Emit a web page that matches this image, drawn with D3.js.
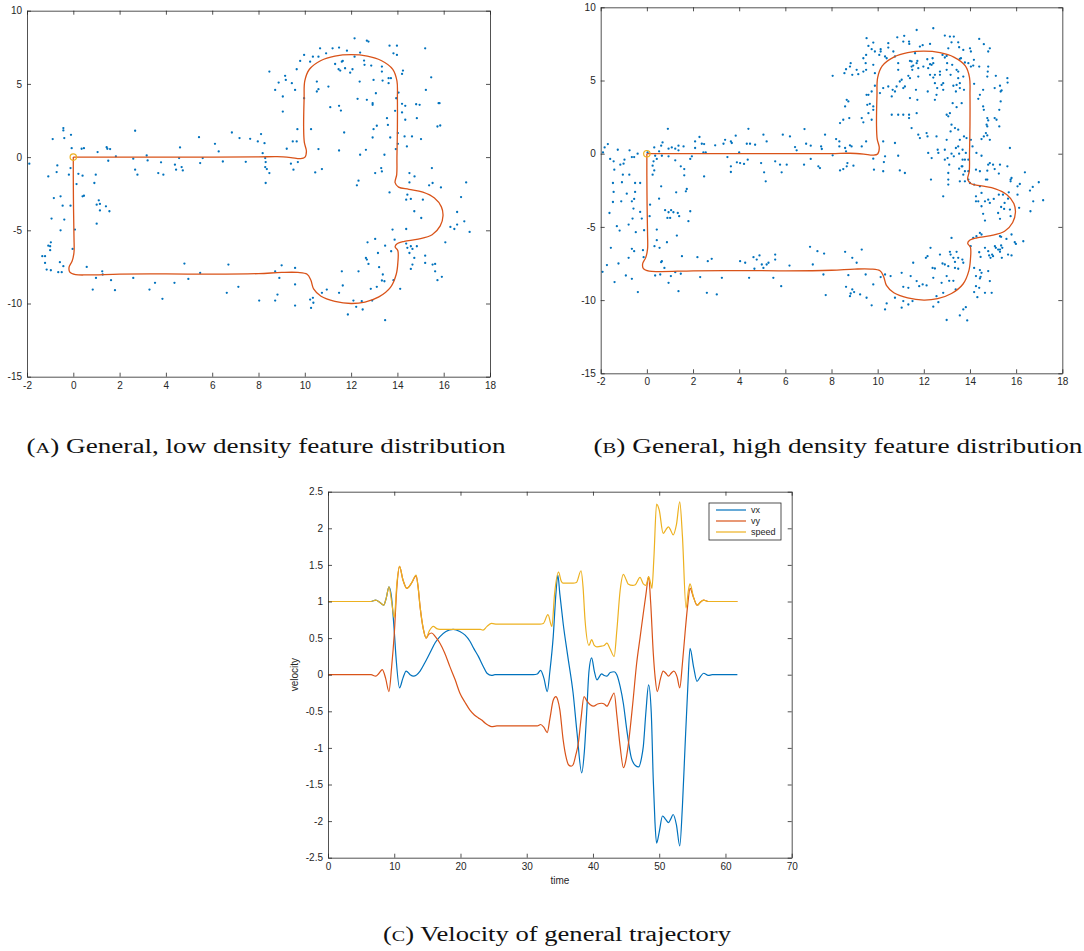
<!DOCTYPE html>
<html><head><meta charset="utf-8">
<script src="https://cdn.jsdelivr.net/npm/d3@7"></script>
<style>body{margin:0;background:#fff}svg{display:block}</style>
</head><body>
<svg id="c" width="1084" height="951"></svg>
<script>
// ---------- DATA ----------
const mapXTicks = [-2,0,2,4,6,8,10,12,14,16,18];
const mapYTicks = [-15,-10,-5,0,5,10];
const velXTicks = [0,10,20,30,40,50,60,70];
const velYTicks = [-2.5,-2,-1.5,-1,-0.5,0,0.5,1,1.5,2,2.5];

const trajectory = [[0,0],[2,0],[5,0],[8,0.01],[8.8,0.03],[9.4,-0.03],[9.8,-0.1],[10.0,-0.02],[10.07,0.4],[9.98,1.0],[9.95,2],[9.97,4],[10.0,5.2],[10.2,6.0],[10.7,6.6],[11.3,6.9],[12.0,7.0],[12.7,6.9],[13.3,6.6],[13.8,6.0],[13.98,5.2],[14.0,4],[14.0,2],[13.98,0],[13.97,-1.2],[13.9,-1.75],[14.05,-2.05],[14.5,-2.2],[15.1,-2.4],[15.6,-2.8],[15.9,-3.4],[15.97,-4.0],[15.85,-4.7],[15.5,-5.3],[14.9,-5.6],[14.3,-5.75],[14.0,-5.9],[13.9,-6.12],[14.02,-6.4],[14.02,-7.2],[13.95,-8.0],[13.7,-8.9],[13.2,-9.55],[12.6,-9.9],[12.0,-10.0],[11.3,-9.85],[10.7,-9.5],[10.38,-9.0],[10.26,-8.4],[10.1,-8.0],[9.7,-7.88],[9,-7.88],[8,-7.96],[6,-8.0],[4,-7.98],[2,-8.0],[0.6,-8.05],[0.1,-8.02],[-0.15,-7.85],[-0.18,-7.5],[-0.05,-7.1],[0.03,-6.5],[0.03,-5.5],[0.01,-3.5],[0,-1.5],[0,0]];

const featuresLow = [[-1.9,-0.45],[-0.43,1.98],[-0.43,1.82],[-0.39,1.3],[-0.89,1.23],[-0.1,1.52],[-0.07,0.61],[0.36,0.57],[0.46,0.61],[-0.69,-0.57],[-0.72,-1.02],[-1.08,-1.32],[-0.19,-1.2],[-0.12,-0.75],[0.22,-1.14],[0.4,-1.27],[0.14,-1.84],[-0.84,-2.8],[-0.55,-2.68],[-0.46,-3.32],[-0.12,-3.32],[0.4,-2.68],[0.46,-2.64],[-0.94,-4.2],[-0.39,-4.27],[-0.55,-5.0],[0.07,-4.95],[-0.03,-6.27],[-0.97,-5.82],[-1.0,-6.09],[-1.08,-6.05],[-1.0,-6.36],[-1.34,-6.77],[-1.22,-6.77],[-1.22,-7.23],[-1.15,-7.68],[-0.97,-7.73],[-0.65,-7.86],[-0.5,-7.86],[-0.58,-7.18],[-0.43,-7.45],[0.58,-7.5],[0.97,-1.2],[0.91,-1.77],[1.05,0.34],[1.44,0.68],[1.47,0.57],[1.59,0.55],[1.51,-0.25],[1.84,0.05],[1.01,-3.25],[1.1,-2.95],[1.15,-3.2],[1.15,-3.64],[1.41,-3.36],[1.56,-3.7],[1.01,-4.55],[0.98,-8.25],[1.25,-7.8],[1.27,-8.02],[0.84,-9.05],[1.63,-8.41],[1.8,-9.09],[2.67,1.8],[2.59,-0.11],[2.67,-0.86],[2.77,-1.2],[2.59,-8.25],[3.17,0.11],[3.21,-0.23],[3.79,-0.36],[3.67,-1.09],[3.89,-1.2],[3.29,-9.05],[3.53,-8.59],[3.85,-9.68],[4.37,-8.59],[4.39,-0.52],[4.44,-0.86],[4.57,-0.07],[4.68,-0.68],[4.73,-0.91],[4.61,0.66],[4.8,-7.27],[4.97,-8.32],[5.43,1.36],[5.48,-0.41],[5.59,-0.07],[5.48,-7.91],[6.12,0.91],[6.28,0.39],[6.46,-0.3],[6.85,1.68],[6.7,-7.34],[6.63,-9.27],[7.18,1.3],[7.45,-0.32],[7.13,-8.86],[7.64,1.25],[7.97,1.07],[8.11,1.57],[8.26,0.95],[8.18,0.27],[8.29,-0.07],[8.31,-0.34],[8.29,-0.68],[8.36,-0.82],[8.47,-1.09],[8.31,-1.77],[8.47,5.84],[8.72,4.59],[8.87,5.09],[9.05,4.14],[9.05,3.11],[9.15,5.55],[9.18,5.27],[9.44,5.05],[9.58,4.59],[9.65,6.0],[9.8,6.57],[9.97,6.98],[9.97,4.02],[9.68,1.91],[9.65,1.07],[9.48,1.07],[9.22,0.57],[9.4,-0.45],[9.51,-0.86],[9.7,-0.34],[10.27,1.91],[10.59,0.55],[10.45,-1.05],[10.74,-0.82],[10.23,6.52],[10.35,6.86],[10.59,6.86],[10.66,7.43],[10.92,7.09],[11.2,7.43],[11.48,7.48],[11.31,6.36],[11.46,6.0],[11.53,5.91],[11.6,6.52],[11.64,6.57],[11.82,7.27],[11.74,6.07],[11.96,5.77],[12.06,6.0],[12.15,8.11],[12.15,6.86],[12.39,7.14],[12.56,6.59],[12.68,7.95],[12.75,7.89],[12.87,6.25],[12.58,6.3],[13.33,6.18],[13.33,5.84],[12.97,5.27],[13.36,5.23],[13.66,7.61],[13.98,7.61],[13.83,7.09],[13.98,6.98],[13.62,5.39],[13.72,5.39],[13.62,5.05],[14.2,5.68],[14.24,5.91],[15.2,7.43],[12.37,5.16],[12.68,3.91],[12.93,3.68],[12.93,3.57],[12.28,3.98],[13.07,4.36],[12.97,1.91],[13.11,2.14],[12.93,1.34],[11.56,3.18],[11.48,3.5],[11.1,3.41],[11.02,4.82],[10.52,5.16],[10.59,4.64],[10.52,4.48],[11.7,1.68],[11.48,0.45],[12.39,0.16],[12.64,0.5],[13.04,-1.09],[13.3,-0.75],[13.33,-0.98],[13.44,0.16],[13.59,2.2],[13.55,2.66],[13.69,1.34],[13.9,3.16],[13.95,4.02],[14.05,4.41],[14.02,1.64],[14.02,0.91],[13.93,0.55],[14.2,3.64],[14.34,3.5],[14.2,3.05],[14.34,2.55],[14.31,1.41],[14.41,0.73],[14.63,1.41],[14.81,3.61],[14.96,3.57],[14.84,2.66],[15.02,1.23],[15.46,5.45],[15.23,4.59],[15.78,3.68],[15.82,3.68],[15.73,2.09],[15.85,2.16],[15.49,-0.75],[12.32,-1.61],[12.25,-1.93],[13.66,-2.41],[14.52,-1.09],[14.74,-1.32],[14.52,-1.73],[14.43,-2.57],[14.38,-2.91],[14.58,-2.86],[14.73,-3.7],[15.1,-2.91],[15.37,-1.93],[15.52,-1.77],[15.88,-2.07],[15.03,-4.16],[14.38,-4.91],[13.79,-4.95],[13.88,-5.64],[12.71,-5.82],[13.04,-5.59],[13.16,-6.55],[13.47,-6.05],[13.73,-6.43],[12.64,-6.89],[12.68,-7.0],[12.75,-7.3],[13.21,-7.52],[13.37,-8.02],[13.33,-8.43],[13.44,-8.48],[13.83,-8.41],[14.12,-9.0],[13.11,-8.86],[12.85,-9.0],[12.32,-7.8],[14.38,-5.91],[14.43,-6.2],[14.58,-6.09],[14.65,-6.27],[14.84,-6.09],[14.52,-6.55],[14.73,-6.89],[14.65,-7.34],[14.58,-7.64],[15.2,-6.73],[15.2,-7.23],[15.52,-7.34],[15.63,-7.3],[15.63,-7.8],[15.73,-8.41],[15.92,-8.18],[16.07,-5.82],[16.29,-4.77],[16.46,-4.91],[16.58,-4.61],[16.58,-3.75],[16.75,-2.73],[16.97,-1.73],[16.89,-4.39],[17.12,-5.11],[11.6,-7.8],[11.64,-8.77],[11.48,-9.27],[10.95,-9.05],[10.74,-9.27],[10.35,-9.61],[10.23,-9.73],[10.37,-9.95],[10.27,-10.3],[9.58,-8.7],[9.58,-7.57],[9.58,-10.14],[9.0,-7.39],[8.9,-8.25],[8.82,-9.39],[8.72,-9.8],[8.72,-7.8],[8.03,-9.8],[12.1,-9.8],[12.22,-10.23],[12.46,-9.84],[12.5,-10.41],[12.91,-9.8],[11.86,-10.75],[13.47,-11.14]];

const featuresHigh = [[-1.9,0.09],[-1.83,0.43],[-1.69,0.66],[-1.26,0.27],[-1.59,-0.36],[-1.44,-0.52],[-1.41,-1.09],[-1.15,-0.75],[-0.97,-0.41],[-1.01,-0.68],[-0.75,0.23],[-0.65,-0.23],[-0.55,-0.23],[-0.4,0],[-1.47,-2.0],[-1.08,-1.95],[-1.04,-1.43],[-0.76,-1.43],[-1.44,-2.61],[-1.11,-3.25],[-1.47,-3.3],[-0.87,-2.73],[-0.65,-3.25],[-0.55,-3.09],[-0.51,-2.0],[-0.51,-2.61],[-0.58,-3.75],[-0.29,-2.0],[-1.62,-4.05],[-1.3,-4.95],[-1.18,-5.25],[-0.79,-4.84],[-0.62,-4.43],[-0.48,-5.36],[-0.29,-3.98],[-0.22,-4.43],[-1.56,-6.43],[-1.73,-7.61],[-1.92,-8.07],[-1.4,-8.77],[-1.23,-7.5],[-0.91,-8.32],[-0.79,-7.11],[-0.65,-8.55],[-0.65,-6.5],[-0.55,-6.66],[-0.39,-9.45],[-0.17,-6.59],[-0.12,-5.23],[-0.14,-7.07],[0.03,0.09],[0.32,0.43],[0.53,0.16],[0.62,0.55],[0.68,0.77],[0.94,0.34],[0.91,1.7],[1.08,0.43],[1.23,0.34],[1.37,0.23],[1.59,0.5],[1.37,0.55],[0.36,-0.14],[0.29,-0.52],[0.43,-0.36],[0.25,-1.43],[0.25,-0.82],[0.32,-1.14],[0.65,-0.14],[0.94,-0.18],[1.23,-0.45],[1.47,-0.86],[1.62,-1.05],[1.62,-1.48],[1.88,-0.36],[1.95,-0.18],[0.14,-3.48],[0.12,-4.27],[0.53,-3.07],[0.62,-2.23],[0.43,-5.18],[0.79,-3.86],[0.94,-4.0],[1.05,-3.86],[1.01,-4.39],[1.15,-4.0],[1.34,-4.05],[1.4,-4.27],[0.89,-4.39],[1.27,-2.64],[1.73,-2.41],[1.69,-2.57],[1.88,-3.93],[1.8,-4.61],[1.3,-5.59],[0.87,-6.05],[0.43,-5.91],[0.33,-6.32],[0.55,-6.43],[0.65,-7.34],[0.62,-7.41],[0.76,-7.8],[0.36,-8.32],[0.58,-8.25],[0.94,-8.82],[1.04,-8.36],[1.23,-8.09],[1.37,-9.39],[1.52,-7.0],[1.47,-8.2],[2.19,-7.07],[2.31,-8.43],[2.6,-9.5],[2.64,-7.34],[2.81,-7.18],[3.03,-9.61],[3.25,-8.48],[2.09,0.84],[2.09,0.39],[2.28,1.14],[2.38,0.68],[2.48,0.66],[2.45,0.09],[2.55,0.09],[2.48,-1.55],[2.96,0.57],[3.32,0.68],[3.39,0.95],[3.64,0.84],[3.68,0.73],[3.85,1.23],[4.0,0.09],[3.9,-0.59],[3.64,-0.86],[3.64,-1.25],[3.49,-0.23],[4.04,-0.64],[4.21,-0.7],[4.4,1.7],[4.33,0.68],[4.47,0.68],[4.37,-0.41],[4.69,0.61],[4.95,-0.64],[5.05,1.3],[5.08,-1.27],[5.19,0.84],[5.15,-1.89],[5.56,-0.52],[5.77,-0.75],[5.84,-1.27],[5.89,1.3],[6.06,-0.75],[6.2,1.18],[6.42,0.45],[6.49,0.23],[6.9,0.68],[6.83,1.68],[6.81,-0.75],[7.1,-0.36],[7.1,0.55],[7.43,-0.86],[7.5,-0.98],[7.55,0.5],[7.58,0.32],[7.72,1.3],[8.05,-0.11],[8.2,1.0],[8.34,0.84],[8.34,0.5],[8.59,0.39],[8.63,0.16],[8.69,-0.64],[8.8,0.57],[8.87,0.5],[8.37,-1.14],[8.51,-1.05],[8.66,-0.86],[8.95,-0.82],[9.31,0.5],[9.5,0.84],[9.81,-0.34],[4.04,-7.34],[4.26,-7.45],[4.43,-8.48],[4.62,-7.07],[4.76,-7.23],[4.66,-7.86],[4.88,-6.95],[4.98,-7.57],[5.05,-7.8],[5.19,-7.57],[5.27,-7.45],[5.56,-6.89],[5.56,-7.23],[5.48,-8.48],[5.82,-9.05],[6.18,-7.64],[7.07,-6.36],[7.19,-7.57],[7.39,-6.66],[7.68,-6.82],[7.65,-8.25],[7.75,-9.66],[8.59,-6.7],[8.73,-8.3],[8.63,-9.09],[8.83,-9.55],[8.9,-9.27],[8.9,-7.11],[9.09,-7.45],[8.8,-9.73],[8.98,-9.45],[9.31,-6.55],[9.24,-9.61],[9.48,-8.25],[9.52,-9.84],[9.74,-10.36],[9.81,-8.93],[10.13,-8.43],[10.32,-8.25],[10.32,-10.64],[10.39,-10.23],[10.56,-8.36],[10.75,-9.84],[11.04,-8.14],[11.11,-9.09],[11.04,-10.52],[11.11,-10.07],[11.33,-10.3],[11.33,-9.16],[11.43,-8.36],[11.54,-7.45],[11.51,-10.07],[11.69,-8.7],[11.8,-9.05],[11.95,-8.93],[12.09,-7.11],[12.16,-7.0],[12.29,-6.43],[12.12,-9.0],[12.38,-7.8],[12.41,-8.48],[12.48,-7.84],[12.55,-9.73],[12.41,-10.45],[12.63,-10.14],[12.7,-6.89],[12.81,-7.5],[12.91,-7.57],[12.77,-8.82],[12.84,-9.5],[12.99,-8.36],[13.06,-7.68],[13.1,-8.68],[12.99,-11.36],[13.13,-6.7],[13.16,-6.89],[13.2,-5.75],[13.28,-7.11],[13.35,-7.39],[13.35,-7.8],[13.28,-8.68],[13.38,-9.27],[13.42,-6.7],[13.49,-7.11],[13.49,-7.86],[13.56,-11.05],[13.67,-7.23],[13.71,-7.45],[13.71,-10.64],[13.82,-10.48],[13.88,-11.39],[14.18,-7.8],[14.26,-8.36],[14.26,-9.05],[14.18,-9.45],[14.32,-9.8],[14.4,-9.16],[14.43,-7.95],[14.46,-8.41],[14.43,-8.52],[14.65,-9.5],[14.94,-9.5],[14.86,-8.7],[14.5,-8.14],[14.79,-8.02],[14.4,-6.73],[14.46,-7.05],[14.65,-6.43],[14.79,-6.66],[14.83,-6.95],[14.89,-7.11],[14.96,-6.89],[15.0,-7.0],[15.08,-6.32],[15.12,-6.43],[15.22,-6.55],[15.3,-6.55],[15.35,-6.27],[15.4,-6.43],[15.3,-6.7],[15.38,-7.11],[15.65,-6.89],[15.8,-6.95],[15.3,-5.64],[15.35,-5.68],[15.58,-5.82],[15.8,-5.52],[15.94,-6.05],[15.99,-6.16],[16.31,-5.98],[15.3,-4.45],[15.22,-4.05],[15.35,-3.64],[15.48,-3.77],[15.5,-3.36],[15.43,-2.8],[15.25,-2.8],[15.68,-2.64],[15.76,-1.89],[15.25,-1.36],[15.07,-1.05],[14.86,-0.64],[15.0,-0.75],[15.3,-0.75],[14.79,-0.75],[14.75,-1.16],[14.69,-1.77],[14.75,-1.77],[14.43,-1.2],[14.26,-1.09],[14.43,-2.23],[14.5,-2.68],[14.65,-3.25],[14.79,-3.14],[14.86,-3.36],[15.03,-3.09],[14.26,-2.91],[14.36,-3.25],[14.26,-3.25],[14.5,-3.59],[14.57,-4.11],[14.65,-4.57],[14.43,-5.41],[14.5,-5.52],[14.28,-5.64],[14.14,-5.75],[14.03,-6.32],[14.18,-2.11],[14.0,-2.0],[13.93,-1.77],[13.93,-1.2],[13.78,-1.2],[13.67,-0.86],[13.71,-1.43],[13.56,-1.89],[13.78,-1.89],[13.64,-0.86],[13.53,-1.02],[13.78,-0.41],[13.93,-0.41],[16.16,-2.07],[16.06,-2.23],[16.06,-2.8],[16.13,-3.7],[15.73,-3.82],[15.65,-3.07],[15.76,-4.27],[16.38,-1.27],[16.6,-2.52],[16.72,-2.27],[16.74,-3.25],[16.62,-3.93],[16.98,-1.95],[17.17,-3.18],[15.8,-1.66],[15.76,-1.77],[15.62,-0.86],[14.04,5.95],[13.93,6.18],[14.0,7.2],[14.04,6.98],[14.17,6.41],[14.14,6.02],[14.4,7.84],[14.4,5.95],[14.6,7.48],[14.86,7.2],[14.79,6.98],[14.79,5.95],[14.77,5.61],[14.75,5.27],[14.57,4.36],[14.43,4.02],[14.36,3.75],[14.57,3.23],[14.6,3.0],[14.75,2.43],[14.79,2.27],[14.72,1.98],[14.69,1.41],[14.75,1.25],[14.6,1.18],[14.5,1.0],[14.86,0.95],[15.07,2.43],[15.15,2.32],[15.27,1.86],[15.12,5.32],[15.07,4.48],[15.3,4.64],[15.37,4.32],[15.33,4.25],[15.33,3.57],[15.27,3.0],[15.62,5.16],[15.63,4.86],[15.73,0.39],[13.68,-0.41],[13.49,0.5],[13.56,0.95],[13.49,1.64],[13.35,1.75],[13.2,1.98],[13.16,1.52],[13.06,2.55],[13.13,2.77],[13.25,3.45],[13.42,3.18],[13.64,3.45],[13.74,4.36],[13.74,1.18],[13.85,1.07],[13.68,0.27],[13.82,0.05],[12.99,2.66],[12.99,0.95],[13.03,-0.3],[13.06,-1.32],[13.06,-1.77],[13.06,-2.11],[12.84,-2.91],[12.91,0.27],[12.91,-0.41],[13.39,0.39],[13.2,0],[13.3,-0.18],[13.53,0],[13.1,-0.75],[13.28,4.64],[13.39,4.25],[13.16,5.39],[13.42,5.73],[13.49,5.16],[13.56,4.82],[13.42,4.7],[13.23,6.07],[13.01,6.18],[12.99,5.73],[12.91,6.57],[12.81,6.75],[12.99,6.68],[13.06,7.2],[13.2,7.61],[13.49,7.61],[13.3,8.0],[13.13,8.0],[12.91,8.07],[13.53,7.27],[13.71,7.09],[13.78,6.23],[13.61,6.52],[13.71,5.27],[13.56,4.48],[12.41,8.57],[12.27,7.5],[12.15,6.45],[12.27,6.11],[12.41,6.18],[12.19,5.84],[12.27,5.39],[12.48,5.39],[12.7,5.39],[12.48,4.82],[12.58,4.48],[12.77,4.7],[12.84,4.36],[12.84,4.82],[12.55,4.02],[12.48,3.68],[12.17,4.25],[12.41,5.2],[12.55,1.18],[12.6,0.27],[12.63,0.05],[12.34,-0.3],[12.19,0.05],[12.31,-1.77],[12.16,1.18],[11.83,1.07],[11.76,1.3],[11.69,2.77],[11.36,2.66],[11.47,1.75],[11.36,2.43],[10.89,2.66],[11.11,2.66],[10.75,0.73],[10.89,-0.14],[10.96,-1.14],[11.18,-1.32],[10.32,-0.18],[10.27,-0.57],[10.24,-1.2],[9.84,-1.09],[10.24,0.84],[10.61,2.66],[10.61,3.91],[10.46,4.59],[10.24,4.48],[10.1,4.14],[10.65,4.36],[10.75,4.25],[10.82,4.59],[10.96,4.93],[11.18,4.59],[11.04,5.05],[11.33,5.32],[11.4,5.16],[11.4,3.8],[11.11,4.48],[11.54,6.02],[11.69,6.18],[11.47,6.3],[11.4,6.34],[11.47,5.95],[11.5,5.73],[11.72,6.34],[11.62,6.86],[11.76,5.84],[11.83,7.32],[11.69,8.45],[11.36,7.66],[11.37,7.5],[11.15,8.05],[11.11,7.66],[10.85,7.95],[10.75,6.64],[10.89,6.18],[10.89,5.73],[10.68,6.98],[10.46,7.55],[10.46,7.25],[10.39,6.52],[10.32,6.64],[10.13,7.14],[10.13,6.98],[10.07,6.75],[9.81,7.59],[9.88,6.98],[9.52,7.89],[9.6,7.36],[9.5,6.75],[9.74,7.14],[9.38,6.52],[9.48,6.18],[9.5,5.73],[9.81,6.07],[9.88,5.5],[9.38,5.61],[9.16,5.43],[9.09,5.73],[8.8,5.95],[8.83,6.18],[8.63,5.77],[8.56,5.5],[8.05,5.32],[8.9,5.39],[8.66,3.68],[8.73,3.57],[8.59,3.23],[8.77,2.43],[8.51,2.32],[8.37,2.09],[9.31,2.43],[9.38,2.14],[9.6,2.77],[9.74,2.32],[9.55,3.34],[9.52,4.02],[9.6,4.02],[9.74,4.25],[9.81,3.0],[9.81,3.23],[9.66,3.41],[9.88,4.64],[11.72,3.68],[11.66,4.36],[11.76,5.27],[11.95,7.41],[11.98,5.95],[12.34,6.07],[12.38,6.52],[12.7,5.61],[13.56,6.48],[13.49,5.61],[14.18,4.77],[14.75,1.86],[14.04,0.95],[14.11,0.5],[14.28,0.05],[14.5,-0.14],[12.12,1.41]];

const vxSeries = [[0,1],[6.5,1],[7.2,1.02],[7.8,0.99],[8.4,0.95],[8.8,1.05],[9.2,1.2],[9.6,1.05],[10.0,0.6],[10.3,0.2],[10.8,-0.18],[11.3,-0.05],[11.8,0.05],[12.4,0.0],[12.9,-0.02],[13.9,0.05],[14.6,0.16],[15.4,0.3],[16.2,0.44],[16.9,0.52],[17.8,0.59],[18.9,0.62],[19.9,0.59],[20.7,0.54],[21.4,0.46],[22.0,0.36],[22.7,0.25],[23.4,0.12],[24.0,0.02],[24.7,-0.01],[25.2,0],[31,0],[31.6,0.01],[32.1,0.06],[32.6,-0.05],[33.1,-0.23],[33.5,0.05],[34.0,0.52],[34.4,1.1],[34.7,1.36],[35.0,1.1],[35.5,0.7],[36.2,0.25],[37.0,-0.25],[37.6,-0.8],[38.3,-1.34],[38.7,-1.05],[39.05,-0.52],[39.4,0.05],[39.8,0.23],[40.2,0.05],[40.6,-0.07],[41.3,0.01],[41.7,-0.01],[42.1,-0.02],[42.6,0.03],[43.2,0.04],[43.6,0.0],[44.1,-0.16],[44.6,-0.4],[45.1,-0.75],[45.8,-1.14],[46.4,-1.24],[46.9,-1.26],[47.3,-1.15],[47.6,-0.98],[48.0,-0.5],[48.4,-0.14],[48.8,-0.52],[49.1,-1.43],[49.35,-2.0],[49.6,-2.3],[50.0,-2.15],[50.5,-1.93],[51.0,-1.98],[51.4,-2.02],[51.75,-1.97],[52.1,-1.91],[52.6,-2.05],[53.1,-2.34],[53.5,-1.8],[53.9,-0.98],[54.3,-0.2],[54.65,0.36],[55.2,0.1],[55.7,-0.09],[56.2,-0.03],[56.7,0.02],[57.4,-0.01],[58,0],[61.8,0]];

const vySeries = [[0,0],[6.5,0],[7.2,-0.02],[7.7,0.02],[8.2,0.07],[8.7,-0.05],[9.2,-0.23],[9.6,0.1],[10.0,0.55],[10.4,1.2],[10.8,1.48],[11.3,1.3],[11.9,1.18],[12.6,1.25],[13.3,1.35],[13.6,1.2],[13.9,0.93],[14.4,0.62],[14.8,0.5],[15.2,0.55],[15.65,0.57],[16.2,0.52],[16.9,0.43],[17.6,0.3],[18.4,0.11],[19.2,-0.07],[19.9,-0.25],[20.7,-0.38],[21.4,-0.48],[22.1,-0.55],[22.7,-0.59],[23.2,-0.62],[23.7,-0.66],[24.2,-0.69],[24.7,-0.71],[25.5,-0.7],[31,-0.7],[31.6,-0.7],[32.1,-0.68],[32.6,-0.72],[33.1,-0.79],[33.5,-0.6],[34.0,-0.35],[34.4,-0.3],[34.7,-0.35],[35.0,-0.48],[35.5,-0.89],[36.0,-1.15],[36.3,-1.23],[36.7,-1.25],[37.0,-1.23],[37.4,-1.1],[37.8,-0.93],[38.2,-0.6],[38.65,-0.3],[39.1,-0.36],[39.6,-0.41],[40.1,-0.43],[40.7,-0.4],[41.3,-0.39],[41.7,-0.4],[42.1,-0.43],[42.6,-0.35],[43.2,-0.25],[43.6,-0.55],[44.1,-0.98],[44.6,-1.27],[44.9,-1.2],[45.3,-0.98],[46.0,-0.4],[46.6,0.16],[47.1,0.5],[47.6,0.84],[48.0,1.1],[48.4,1.34],[48.7,1.0],[49.1,0.3],[49.4,-0.05],[49.7,-0.23],[50.2,-0.05],[50.6,0.05],[51.0,0.02],[51.4,-0.02],[51.8,0.02],[52.2,0.05],[52.7,-0.03],[53.1,-0.18],[53.5,0.15],[53.9,0.57],[54.3,0.95],[54.65,1.18],[55.2,1.05],[55.7,0.95],[56.2,0.99],[56.7,1.02],[57.4,1.0],[61.8,1.0]];

const speedSeries = [[0,1],[6.5,1],[7.2,1.02],[7.8,0.99],[8.4,0.95],[8.8,1.05],[9.2,1.2],[9.6,1.0],[10.0,0.78],[10.4,1.25],[10.8,1.48],[11.3,1.3],[11.9,1.18],[12.6,1.25],[13.3,1.36],[13.6,1.2],[13.9,0.93],[14.4,0.62],[14.8,0.5],[15.3,0.6],[15.9,0.66],[16.4,0.63],[16.9,0.62],[20,0.62],[23,0.62],[23.4,0.61],[24.0,0.66],[24.7,0.7],[25.5,0.69],[31,0.69],[32.0,0.69],[32.5,0.7],[33.2,0.82],[33.8,0.66],[34.2,1.1],[34.8,1.4],[35.2,1.28],[35.5,1.25],[37.0,1.25],[37.5,1.26],[38.2,1.42],[38.5,1.2],[38.8,0.75],[39.4,0.4],[39.8,0.48],[40.2,0.4],[40.6,0.38],[41.3,0.39],[41.7,0.4],[42.1,0.43],[42.6,0.35],[43.2,0.25],[43.6,0.6],[44.1,1.15],[44.6,1.37],[45.0,1.3],[45.3,1.24],[46.0,1.22],[46.4,1.23],[47.1,1.33],[47.6,1.24],[48.0,1.22],[48.4,1.34],[48.7,1.25],[48.9,1.18],[49.2,1.6],[49.6,2.33],[50.0,2.25],[50.6,1.93],[51.0,1.98],[51.4,2.02],[51.75,1.97],[52.1,1.91],[52.6,2.05],[53.1,2.36],[53.5,1.9],[54.05,0.91],[54.4,1.15],[54.65,1.24],[55.2,1.05],[55.8,0.95],[56.2,0.99],[56.7,1.02],[57.4,1.0],[61.8,1.0]];

const legendLabels = ["vx","vy","speed"];
const captions = [["A","General, low density feature distribution"],["B","General, high density feature distribution"],["C","Velocity of general trajectory"]];

// ---------- STYLE ----------
const BLUE="#0072BD", RED="#D95319", YEL="#EDB120", AX="#262626";
const svg = d3.select("#c");
const fmt = d => String(d);

function frame(g, x, y, xt, yt){
  const [l,r]=x.range(), [b,t]=y.range();
  g.append("g").attr("transform",`translate(0,${b})`)
    .call(d3.axisBottom(x).tickValues(xt).tickSizeInner(-4).tickSizeOuter(0).tickPadding(5).tickFormat(fmt));
  g.append("g").attr("transform",`translate(0,${t})`)
    .call(d3.axisTop(x).tickValues(xt).tickSizeInner(-4).tickSizeOuter(0).tickFormat(""));
  g.append("g").attr("transform",`translate(${l},0)`)
    .call(d3.axisLeft(y).tickValues(yt).tickSizeInner(-4).tickSizeOuter(0).tickPadding(5).tickFormat(fmt));
  g.append("g").attr("transform",`translate(${r},0)`)
    .call(d3.axisRight(y).tickValues(yt).tickSizeInner(-4).tickSizeOuter(0).tickFormat(""));
  g.selectAll(".domain, .tick line").attr("stroke",AX).attr("stroke-width",0.8);
  g.selectAll(".tick text").attr("fill",AX).style("font-family","'Liberation Sans',Arial,sans-serif").style("font-size","10px");
}

function mapPanel(left,right,top,bottom,features){
  const g = svg.append("g");
  const x = d3.scaleLinear().domain([-2,18]).range([left,right]);
  const y = d3.scaleLinear().domain([-15,10]).range([bottom,top]);
  g.append("g").selectAll("circle").data(features).join("circle")
    .attr("cx",d=>x(d[0])).attr("cy",d=>y(d[1])).attr("r",1.15).attr("fill",BLUE);
  g.append("path").datum(trajectory)
    .attr("d",d3.line().x(d=>x(d[0])).y(d=>y(d[1])).curve(d3.curveCatmullRom.alpha(0.5)))
    .attr("fill","none").attr("stroke",RED).attr("stroke-width",1.3);
  g.append("circle").attr("cx",x(0)).attr("cy",y(0)).attr("r",3.2)
    .attr("fill","none").attr("stroke",YEL).attr("stroke-width",1.2);
  frame(g,x,y,mapXTicks,mapYTicks);
}
mapPanel(27,490,10.7,376.7,featuresLow);
mapPanel(600.7,1062.3,7.3,373.3,featuresHigh);

// velocity panel
{
  const g = svg.append("g");
  const x = d3.scaleLinear().domain([0,70]).range([328,791.7]);
  const y = d3.scaleLinear().domain([-2.5,2.5]).range([857.7,491.7]);
  const line = d3.line().x(d=>x(d[0])).y(d=>y(d[1])).curve(d3.curveMonotoneX);
  const series=[[vxSeries,BLUE],[vySeries,RED],[speedSeries,YEL]];
  series.forEach(([s,c])=>g.append("path").datum(s).attr("d",line)
     .attr("fill","none").attr("stroke",c).attr("stroke-width",1.2));
  frame(g,x,y,velXTicks,velYTicks);
  g.append("text").attr("x",x(35)).attr("y",884).attr("text-anchor","middle")
    .style("font-family","'Liberation Sans',Arial,sans-serif").style("font-size","10px").attr("fill",AX).text("time");
  g.append("text").attr("transform",`translate(298,${y(0)}) rotate(-90)`).attr("text-anchor","middle")
    .style("font-family","'Liberation Sans',Arial,sans-serif").style("font-size","10px").attr("fill",AX).text("velocity");
  // legend
  const lg = g.append("g");
  lg.append("rect").attr("x",709).attr("y",503).attr("width",72).attr("height",37)
    .attr("fill","#fff").attr("stroke",AX).attr("stroke-width",0.8);
  [BLUE,RED,YEL].forEach((c,i)=>{
    const yy=510+i*11;
    lg.append("line").attr("x1",716).attr("x2",746).attr("y1",yy).attr("y2",yy).attr("stroke",c).attr("stroke-width",1.2);
    lg.append("text").attr("x",751).attr("y",yy+3.2).style("font-family","'Liberation Sans',Arial,sans-serif")
      .style("font-size","9px").attr("fill",AX).text(legendLabels[i]);
  });
}

// captions
const capPos = [[266,453,479],[838,453,489],[557,941,348]];
captions.forEach(([letter,txt],i)=>{
  const [cx,cy,w]=capPos[i];
  const t = svg.append("text").attr("x",cx).attr("y",cy).attr("text-anchor","middle")
    .attr("textLength",w).attr("lengthAdjust","spacingAndGlyphs")
    .style("font-family","'Liberation Serif','DejaVu Serif',serif").style("font-size","20px").attr("fill","#111");
  t.append("tspan").text("(");
  t.append("tspan").style("font-size","15px").text(letter);
  t.append("tspan").text(") "+txt);
});
</script>
</body></html>
